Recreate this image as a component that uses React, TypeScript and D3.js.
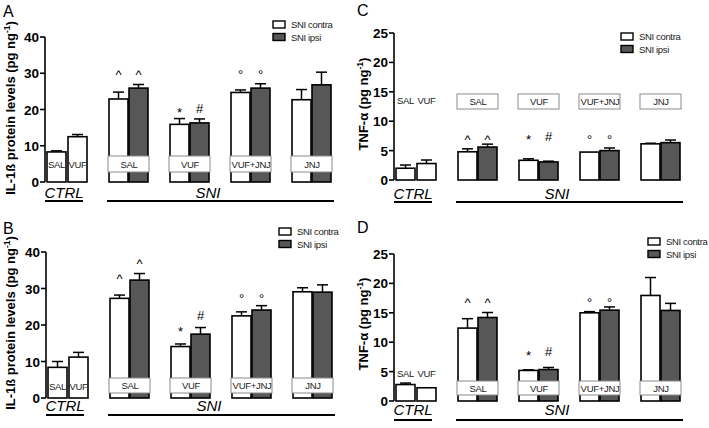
import React from "react";
import * as d3 from "d3";

const W = 709;
const H = 428;

const ctrlCats = ["SAL", "VUF"];
const sniCats = ["SAL", "VUF", "VUF+JNJ", "JNJ"];
const seriesNames = ["SNI contra", "SNI ipsi"];
const markContra = ["^", "*", "°", ""];
const markIpsi = ["^", "#", "°", ""];

// Panel A: IL-1ß
const ctrlA = [8.3, 12.5];
const ctrlErrA = [0.3, 0.6];
const contraA = [22.9, 15.9, 24.7, 22.7];
const contraErrA = [1.9, 1.6, 0.7, 2.8];
const ipsiA = [25.9, 16.3, 25.9, 26.8];
const ipsiErrA = [1.0, 1.1, 1.2, 3.5];
const markYContraA = [30.6, 20.2, 30.6, 0];
const markYIpsiA = [30.6, 20.2, 30.6, 0];

// Panel B: IL-1ß
const ctrlB = [8.4, 11.2];
const ctrlErrB = [1.6, 1.3];
const contraB = [27.3, 14.1, 22.5, 29.1];
const contraErrB = [0.9, 0.7, 1.1, 1.1];
const ipsiB = [32.3, 17.5, 24.1, 29.0];
const ipsiErrB = [1.8, 1.8, 1.2, 2.0];
const markYContraB = [33.6, 19.1, 28.2, 0];
const markYIpsiB = [37.7, 22.7, 28.2, 0];

// Panel C: TNF-α
const ctrlC = [2.0, 2.8];
const ctrlErrC = [0.55, 0.6];
const contraC = [4.8, 3.35, 4.75, 6.15];
const contraErrC = [0.5, 0.25, 0.05, 0.1];
const ipsiC = [5.6, 3.07, 5.0, 6.35];
const ipsiErrC = [0.5, 0.13, 0.45, 0.45];
const markYContraC = [7.4, 7.4, 7.4, 0];
const markYIpsiC = [7.4, 7.4, 7.4, 0];

// Panel D: TNF-α
const ctrlD = [2.8, 2.25];
const ctrlErrD = [0.25, 0.05];
const contraD = [12.4, 5.2, 15.0, 17.95];
const contraErrD = [1.6, 0.1, 0.2, 3.05];
const ipsiD = [14.2, 5.35, 15.45, 15.4];
const ipsiErrD = [0.85, 0.35, 0.55, 1.2];
const markYContraD = [17.3, 8.35, 17.4, 0];
const markYIpsiD = [17.3, 8.35, 17.4, 0];

const yTicksIL = [0, 10, 20, 30, 40];
const yTicksTNF = [0, 5, 10, 15, 20, 25];

const FONT = "Arial, 'Liberation Sans', Helvetica, sans-serif";
const IPSI_FILL = "#575757";

type Panel = {
  letter: string;
  letterX: number;
  letterY: number;
  axisX: number;
  yZero: number;
  yTop: number;
  yMax: number;
  ticks: number[];
  titleMain: string;
  titleX: number;
  titleY: number;
  ctrl: number[];
  ctrlErr: number[];
  contra: number[];
  contraErr: number[];
  ipsi: number[];
  ipsiErr: number[];
  mYc: number[];
  mYi: number[];
  boxTop: number;
  boxH: number;
  ctrlLabelY: number;
  lineY: number;
  groupTextY: number;
  legendX: number;
  legendY: number;
};

const panels: Panel[] = [
  {
    letter: "A", letterX: 3, letterY: 17, axisX: 45, yZero: 182, yTop: 37, yMax: 40, ticks: yTicksIL,
    titleMain: "IL-1ß protein levels (pg ng", titleX: 15, titleY: 108,
    ctrl: ctrlA, ctrlErr: ctrlErrA, contra: contraA, contraErr: contraErrA, ipsi: ipsiA, ipsiErr: ipsiErrA,
    mYc: markYContraA, mYi: markYIpsiA, boxTop: 156, boxH: 16, ctrlLabelY: 164,
    lineY: 201, groupTextY: 198, legendX: 273, legendY: 21,
  },
  {
    letter: "B", letterX: 3, letterY: 234, axisX: 46, yZero: 398, yTop: 252, yMax: 40, ticks: yTicksIL,
    titleMain: "IL-1ß protein levels (pg ng", titleX: 15, titleY: 323,
    ctrl: ctrlB, ctrlErr: ctrlErrB, contra: contraB, contraErr: contraErrB, ipsi: ipsiB, ipsiErr: ipsiErrB,
    mYc: markYContraB, mYi: markYIpsiB, boxTop: 378, boxH: 15, ctrlLabelY: 386,
    lineY: 415, groupTextY: 411, legendX: 279, legendY: 228,
  },
  {
    letter: "C", letterX: 357, letterY: 16, axisX: 394, yZero: 180, yTop: 33, yMax: 25, ticks: yTicksTNF,
    titleMain: "TNF-α (pg ng", titleX: 368, titleY: 104,
    ctrl: ctrlC, ctrlErr: ctrlErrC, contra: contraC, contraErr: contraErrC, ipsi: ipsiC, ipsiErr: ipsiErrC,
    mYc: markYContraC, mYi: markYIpsiC, boxTop: 94, boxH: 15, ctrlLabelY: 100,
    lineY: 202, groupTextY: 199, legendX: 621, legendY: 33,
  },
  {
    letter: "D", letterX: 357, letterY: 233, axisX: 394, yZero: 401, yTop: 254, yMax: 25, ticks: yTicksTNF,
    titleMain: "TNF-α (pg ng", titleX: 368, titleY: 324,
    ctrl: ctrlD, ctrlErr: ctrlErrD, contra: contraD, contraErr: contraErrD, ipsi: ipsiD, ipsiErr: ipsiErrD,
    mYc: markYContraD, mYi: markYIpsiD, boxTop: 381, boxH: 14, ctrlLabelY: 373,
    lineY: 420, groupTextY: 415, legendX: 648, legendY: 238,
  },
];

const BW = 19;

function glyphShift(g: string): number {
  if (g === "#") return 4.5;
  return 8;
}

function ErrBar({ x, y0, y1 }: { x: number; y0: number; y1: number }) {
  if (Math.abs(y0 - y1) < 0.5) return null;
  return (
    <g stroke="#000" strokeWidth={1.5}>
      <line x1={x} x2={x} y1={y0} y2={y1} />
      <line x1={x - 5.5} x2={x + 5.5} y1={y1} y2={y1} />
    </g>
  );
}

function PanelView({ p }: { p: Panel }) {
  const y = d3.scaleLinear().domain([0, p.yMax]).range([p.yZero, p.yTop]);
  const xCtrl = d3.scaleLinear().domain([0, 1]).range([p.axisX + 2, p.axisX + 23]);
  const xGroup = d3.scaleLinear().domain([0, sniCats.length - 1]).range([p.axisX + 64, p.axisX + 247]);

  const bars: React.ReactNode[] = [];
  ctrlCats.forEach((c, i) => {
    const x = xCtrl(i);
    bars.push(
      <g key={"c" + i}>
        <ErrBar x={x + BW / 2} y0={y(p.ctrl[i])} y1={y(p.ctrl[i] + p.ctrlErr[i])} />
        <rect x={x} y={y(p.ctrl[i])} width={BW} height={p.yZero - y(p.ctrl[i])} fill="#fff" stroke="#000" strokeWidth={1.6} />
      </g>
    );
  });
  sniCats.forEach((c, i) => {
    const xc = xGroup(i);
    const xi = xc + 20;
    bars.push(
      <g key={"s" + i}>
        <ErrBar x={xc + BW / 2} y0={y(p.contra[i])} y1={y(p.contra[i] + p.contraErr[i])} />
        <ErrBar x={xi + BW / 2} y0={y(p.ipsi[i])} y1={y(p.ipsi[i] + p.ipsiErr[i])} />
        <rect x={xc} y={y(p.contra[i])} width={BW} height={p.yZero - y(p.contra[i])} fill="#fff" stroke="#000" strokeWidth={1.6} />
        <rect x={xi} y={y(p.ipsi[i])} width={BW} height={p.yZero - y(p.ipsi[i])} fill={IPSI_FILL} stroke="#000" strokeWidth={1.6} />
      </g>
    );
  });

  return (
    <g fontFamily={FONT}>
      <text x={p.letterX} y={p.letterY} fontSize={16}>{p.letter}</text>
      <text
        transform={`translate(${p.titleX},${p.titleY}) rotate(-90)`}
        textAnchor="middle"
        fontSize={13}
        fontWeight="bold"
      >
        {p.titleMain}
        <tspan fontSize={8.5} dy={-5}>-1</tspan>
        <tspan dy={5}>)</tspan>
      </text>
      {bars}
      <line x1={p.axisX} x2={p.axisX} y1={p.yZero} y2={y(p.yMax)} stroke="#000" strokeWidth={1.6} />
      {p.ticks.map((t) => (
        <g key={t}>
          <line x1={p.axisX - 5} x2={p.axisX} y1={y(t)} y2={y(t)} stroke="#000" strokeWidth={1.6} />
          <text x={p.axisX - 6} y={y(t) + 5} textAnchor="end" fontSize={13.5} fontWeight="bold">{t}</text>
        </g>
      ))}
      {sniCats.map((c, i) => {
        const xc = xGroup(i);
        return (
          <g key={"b" + c}>
            <rect x={xc - 1} y={p.boxTop} width={41} height={p.boxH} fill="#fff" stroke="#8a8a8a" strokeWidth={1} />
            <text x={xc + 20} y={p.boxTop + p.boxH / 2 + 3.5} textAnchor="middle" fontSize={9.5} letterSpacing={-0.3} fill="#222">{c}</text>
          </g>
        );
      })}
      {ctrlCats.map((c, i) => (
        <text key={"ct" + c} x={xCtrl(i) + BW / 2} y={p.ctrlLabelY + 3.5} textAnchor="middle" fontSize={9.5} letterSpacing={-0.4} fill="#222">{c}</text>
      ))}
      {sniCats.map((c, i) => {
        const xc = xGroup(i);
        return (
          <g key={"m" + c} fontSize={13}>
            {markContra[i] && (
              <text x={xc + BW / 2} y={y(p.mYc[i]) + glyphShift(markContra[i])} textAnchor="middle">{markContra[i]}</text>
            )}
            {markIpsi[i] && (
              <text x={xc + 20 + BW / 2} y={y(p.mYi[i]) + glyphShift(markIpsi[i])} textAnchor="middle">{markIpsi[i]}</text>
            )}
          </g>
        );
      })}
      <line x1={p.axisX} x2={p.axisX + 38} y1={p.lineY} y2={p.lineY} stroke="#000" strokeWidth={2} />
      <line x1={p.axisX + 62} x2={p.axisX + 289} y1={p.lineY} y2={p.lineY} stroke="#000" strokeWidth={2} />
      <text x={p.axisX + 19} y={p.groupTextY} textAnchor="middle" fontSize={15} fontStyle="italic">CTRL</text>
      <text x={p.axisX + 163} y={p.groupTextY} textAnchor="middle" fontSize={15} fontStyle="italic">SNI</text>
      {seriesNames.map((s, i) => (
        <g key={s}>
          <rect x={p.legendX} y={p.legendY + i * 12.5} width={12} height={7} fill={i === 0 ? "#fff" : IPSI_FILL} stroke="#000" strokeWidth={1.4} />
          <text x={p.legendX + 18} y={p.legendY + i * 12.5 + 7} fontSize={9.5} letterSpacing={-0.35} fill="#222">{s}</text>
        </g>
      ))}
    </g>
  );
}

export default function App() {
  return (
    <svg width={W} height={H} style={{ position: "absolute", left: 0, top: 0, background: "#fff" }}>
      <rect width={W} height={H} fill="#fff" />
      {panels.map((p) => (
        <PanelView key={p.letter} p={p} />
      ))}
    </svg>
  );
}
